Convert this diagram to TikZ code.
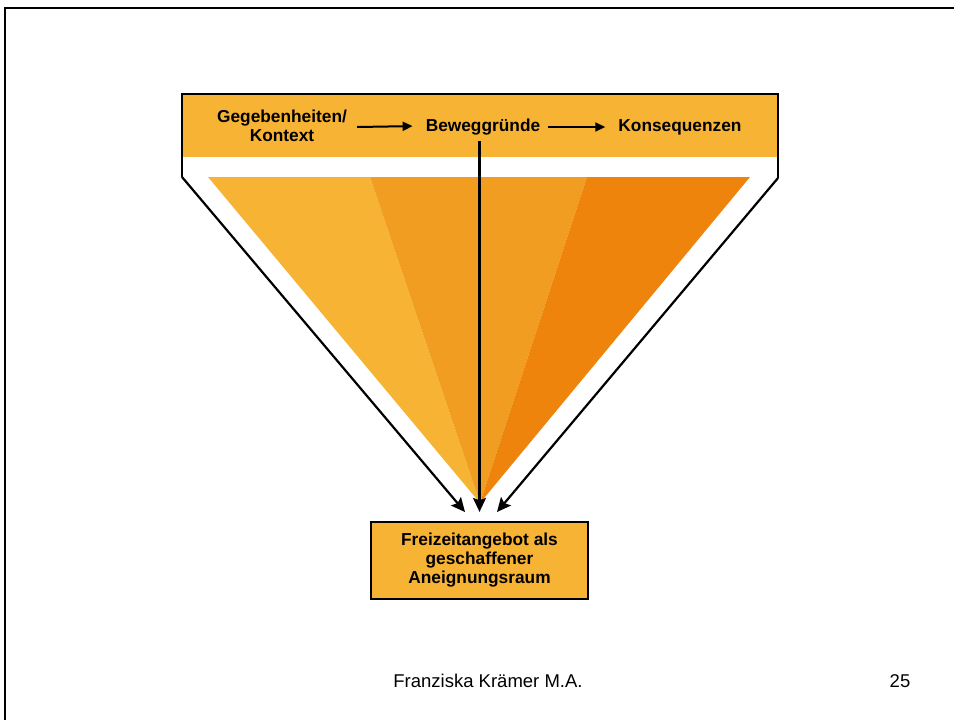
\documentclass[tikz,border=0pt]{standalone}
\usepackage{fontspec}
\setmainfont{Liberation Sans}
\usepackage{xcolor}
\usepackage{tikz}
\usetikzlibrary{arrows.meta}
\definecolor{hellorange}{HTML}{F7B334}
\definecolor{mittelorange}{HTML}{F19D22}
\definecolor{dunkelorange}{HTML}{EF840C}

\begin{document}
\begin{tikzpicture}[x=1pt, y=-1pt,
	lbl/.style={font=\fontsize{17.3}{19}\selectfont\bfseries, align=center, inner sep=6pt},
	kasten/.style={draw, line width=2.2pt, fill=hellorange, minimum width=217pt, minimum height=77pt, font=\fontsize{17.3}{19}\selectfont\bfseries, align=center},
	fuss/.style={font=\fontsize{18.5}{20}\selectfont},
	pfeil/.style={line width=2pt, shorten >=7pt, -{Triangle[length=10pt, width=9pt]}},
	grosspfeil/.style={line width=2.2pt, -{Stealth[length=14pt, width=13pt, inset=2.5pt]}}]
	\useasboundingbox (0,0) rectangle (954,720);
	\draw[line width=2.2pt] (5,720) -- (5,8) -- (954,8);
	% Kopfleiste und Trichter
	\fill[hellorange] (182,94) rectangle (778,157);
	\fill[hellorange] (208,177) -- (370,177) -- (480,503) -- cycle;
	\fill[mittelorange] (370,177) -- (587,177) -- (480,503) -- cycle;
	\fill[dunkelorange] (587,177) -- (750,177) -- (480,503) -- cycle;
	\coordinate (obenL) at (182,94);
	\coordinate (obenR) at (778,94);
	\coordinate (eckeL) at (182,177);
	\coordinate (eckeR) at (778,178);
	\coordinate (spitzeL) at (465,512);
	\coordinate (spitzeR) at (497,512);
	\draw[line width=2.2pt] (eckeL) -- (obenL) -- (obenR) -- (eckeR);
	\draw[grosspfeil] (eckeL) -- (spitzeL);
	\draw[grosspfeil] (eckeR) -- (spitzeR);
	\node[lbl] (gegeben) at (282,126) {Gegebenheiten/\\Kontext};
	\node[lbl] (beweg) at (483,127) {Beweggründe};
	\node[lbl] (konseq) at (680,127) {Konsequenzen};
	\node[kasten] (angebot) at (479.5,560.5) {Freizeitangebot als\\geschaffener\\Aneignungsraum};
	\draw[pfeil] (gegeben.east) ++(4,1) -- ([yshift=1pt]beweg.west);
	\draw[pfeil] (beweg.east) ++(2,0) -- (konseq.west);
	\draw[grosspfeil] (beweg.south -| angebot.north) -- ([yshift=9pt]angebot.north);
	\node[fuss] (autorin) at (488,681) {Franziska Krämer M.A.};
	\node[fuss] (seite) at (900,681) {25};
\end{tikzpicture}
\end{document}
